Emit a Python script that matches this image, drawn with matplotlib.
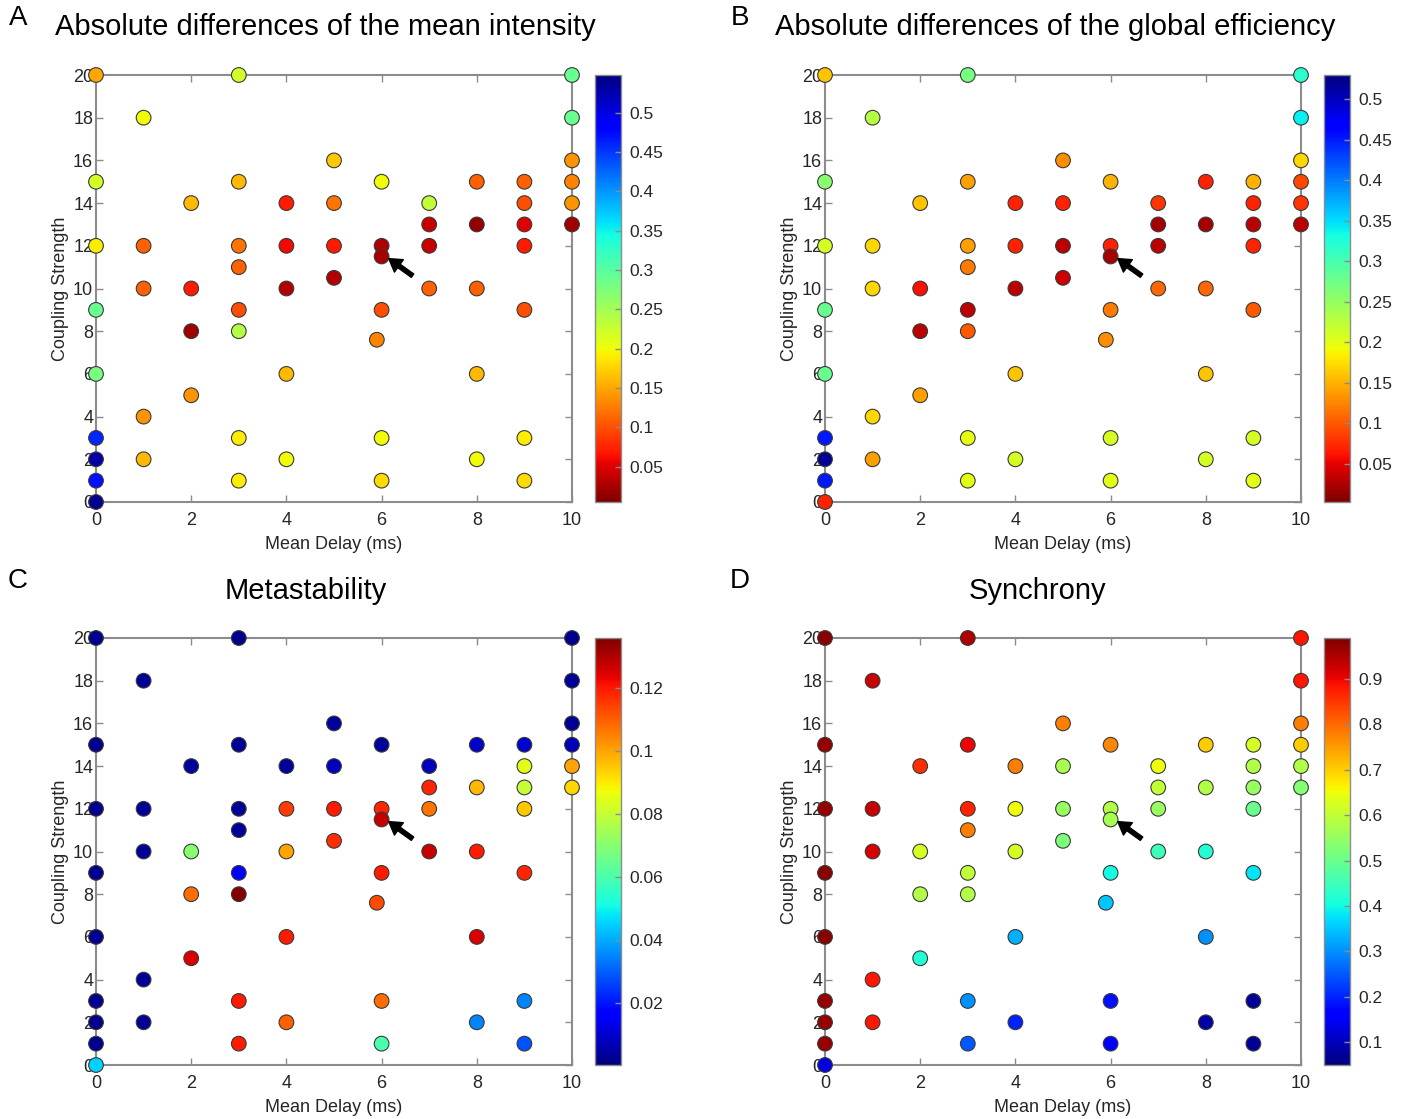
import numpy as np
import matplotlib
matplotlib.use("Agg")
import matplotlib.pyplot as plt

plt.rcParams['font.family'] = ['Liberation Sans', 'DejaVu Sans']

# grid of simulated parameter pairs (same for all panels)
delay = ([0] * 9 + [1] * 5 + [2] * 4 + [3] * 8 + [4] * 5 + [5] * 4 + [5.9]
         + [6] * 6 + [7] * 4 + [8] * 5 + [9] * 7 + [10] * 6)
coupling = [20, 15, 12, 9, 6, 3, 2, 1, 0,
            18, 12, 10, 4, 2,
            14, 10, 8, 5,
            20, 15, 12, 11, 9, 8, 3, 1,
            14, 12, 10, 6, 2,
            16, 14, 12, 10.5,
            7.6,
            15, 12, 11.5, 9, 3, 1,
            14, 13, 12, 10,
            15, 13, 10, 6, 2,
            15, 14, 13, 12, 9, 3, 1,
            20, 18, 16, 15, 14, 13]

intensity_diff = [0.15, 0.22, 0.19, 0.29, 0.28, 0.46, 0.53, 0.47, 0.54,
                  0.20, 0.11, 0.11, 0.14, 0.16,
                  0.16, 0.07, 0.02, 0.14,
                  0.22, 0.16, 0.12, 0.11, 0.10, 0.24, 0.19, 0.19,
                  0.07, 0.06, 0.03, 0.16, 0.20,
                  0.17, 0.12, 0.07, 0.03,
                  0.13,
                  0.20, 0.03, 0.025, 0.10, 0.20, 0.18,
                  0.23, 0.04, 0.04, 0.11,
                  0.11, 0.015, 0.11, 0.16, 0.20,
                  0.11, 0.10, 0.05, 0.07, 0.10, 0.19, 0.18,
                  0.29, 0.29, 0.14, 0.13, 0.14, 0.02]

efficiency_diff = [0.16, 0.26, 0.21, 0.28, 0.28, 0.45, 0.52, 0.45, 0.07,
                   0.23, 0.17, 0.17, 0.17, 0.14,
                   0.16, 0.06, 0.03, 0.14,
                   0.27, 0.14, 0.14, 0.12, 0.03, 0.10, 0.20, 0.20,
                   0.07, 0.07, 0.03, 0.16, 0.21,
                   0.13, 0.07, 0.03, 0.04,
                   0.13,
                   0.15, 0.07, 0.02, 0.12, 0.21, 0.20,
                   0.08, 0.02, 0.03, 0.11,
                   0.07, 0.02, 0.11, 0.16, 0.21,
                   0.15, 0.07, 0.03, 0.07, 0.10, 0.21, 0.20,
                   0.32, 0.34, 0.17, 0.09, 0.08, 0.03]

metastability = [0.002, 0.002, 0.002, 0.002, 0.002, 0.002, 0.002, 0.002, 0.045,
                 0.003, 0.003, 0.003, 0.003, 0.003,
                 0.004, 0.07, 0.108, 0.125,
                 0.002, 0.003, 0.003, 0.004, 0.016, 0.135, 0.12, 0.12,
                 0.004, 0.115, 0.10, 0.12, 0.11,
                 0.004, 0.008, 0.12, 0.117,
                 0.113,
                 0.004, 0.118, 0.128, 0.12, 0.108, 0.06,
                 0.008, 0.118, 0.107, 0.127,
                 0.009, 0.097, 0.12, 0.125, 0.035,
                 0.01, 0.085, 0.08, 0.095, 0.118, 0.035, 0.028,
                 0.002, 0.003, 0.003, 0.007, 0.10, 0.093]

synchrony = [0.98, 0.97, 0.97, 0.98, 0.98, 0.97, 0.97, 0.97, 0.13,
             0.93, 0.93, 0.92, 0.88, 0.88,
             0.86, 0.62, 0.58, 0.42,
             0.95, 0.90, 0.87, 0.78, 0.60, 0.58, 0.30, 0.25,
             0.78, 0.65, 0.62, 0.33, 0.20,
             0.78, 0.57, 0.55, 0.52,
             0.35,
             0.77, 0.58, 0.57, 0.40, 0.18, 0.15,
             0.65, 0.60, 0.55, 0.45,
             0.70, 0.58, 0.42, 0.30, 0.08,
             0.62, 0.58, 0.55, 0.50, 0.38, 0.07, 0.07,
             0.88, 0.88, 0.78, 0.70, 0.58, 0.53]

panel_letters = ['A', 'B', 'C', 'D']
panel_titles = ['Absolute differences of the mean intensity',
                'Absolute differences of the global efficiency',
                'Metastability', 'Synchrony']
panel_values = [intensity_diff, efficiency_diff, metastability, synchrony]
panel_cmaps = ['jet_r', 'jet_r', 'jet', 'jet']
color_limits = [(0.005, 0.548), (0.003, 0.53), (0.0003, 0.136), (0.05, 0.99)]
cbar_ticks = [[0.05, 0.1, 0.15, 0.2, 0.25, 0.3, 0.35, 0.4, 0.45, 0.5],
              [0.05, 0.1, 0.15, 0.2, 0.25, 0.3, 0.35, 0.4, 0.45, 0.5],
              [0.02, 0.04, 0.06, 0.08, 0.1, 0.12],
              [0.1, 0.2, 0.3, 0.4, 0.5, 0.6, 0.7, 0.8, 0.9]]

# the highlighted point and the arrow pointing at it
arrow_head = (6.15, 11.4)
arrow_tail = (6.65, 10.6)

W, H = 1401, 1119
fig = plt.figure(figsize=(W / 100, H / 100), dpi=100)

# pixel boxes: (left, top) of each axes
ax_origin = [(96, 75), (825, 75), (96, 638), (825, 638)]
ax_w, ax_h = 476, 427
cb_gap, cb_w = 23, 26

# title positions in pixels: letter x, letter y, title x, title y, title ha
title_pos = [(18, 18, 55, 27, 'left'),
             (740, 18, 775, 27, 'left'),
             (18, 581, 306, 591, 'center'),
             (740, 581, 1038, 591, 'center')]

grey = '#8c8c8c'
txt = '#262626'

for i in range(4):
    left, top = ax_origin[i]
    ax = fig.add_axes([left / W, 1 - (top + ax_h) / H, ax_w / W, ax_h / H])
    vmin, vmax = color_limits[i]
    sc = ax.scatter(delay, coupling, c=panel_values[i], cmap=panel_cmaps[i],
                    vmin=vmin, vmax=vmax, s=112, edgecolors='#3a3a3a',
                    linewidths=0.8, clip_on=False, zorder=3)
    ax.set_xlim(0, 10)
    ax.set_ylim(0, 20)
    ax.set_xticks(range(0, 11, 2))
    ax.set_yticks(range(0, 21, 2))
    ax.tick_params(direction='in', length=5, width=1, color=grey,
                   labelcolor=txt, labelsize=13, top=True, right=True)
    ax.tick_params(axis='y', pad=2)
    ax.tick_params(axis='x', pad=7)
    for sp in ax.spines.values():
        sp.set_color(grey)
        sp.set_linewidth(1.5)
    ax.set_xlabel('Mean Delay (ms)', fontsize=13, color=txt, labelpad=5)
    ax.set_ylabel('Coupling Strength', fontsize=13, color=txt, labelpad=3)

    ax.annotate('', xy=arrow_head, xytext=arrow_tail,
                arrowprops=dict(facecolor='black', edgecolor='black',
                                width=3, headwidth=11, headlength=9, shrink=0),
                zorder=4)

    cax = fig.add_axes([(left + ax_w + cb_gap) / W, 1 - (top + ax_h) / H,
                        cb_w / W, ax_h / H])
    cb = fig.colorbar(sc, cax=cax, ticks=cbar_ticks[i])
    cb.ax.set_yticklabels(['%g' % t for t in cbar_ticks[i]])
    cb.ax.tick_params(direction='in', length=4, width=1, color=grey,
                      labelcolor=txt, labelsize=12.5, pad=6)
    cb.outline.set_edgecolor(grey)
    cb.outline.set_linewidth(1)

    lx, ly, tx, ty, ha = title_pos[i]
    fig.text(lx / W, 1 - ly / H, panel_letters[i], fontsize=20, color='black',
             ha='center', va='center')
    fig.text(tx / W, 1 - ty / H, panel_titles[i], fontsize=21, color='black',
             ha=ha, va='center')

fig.savefig('out.png', dpi=100)
